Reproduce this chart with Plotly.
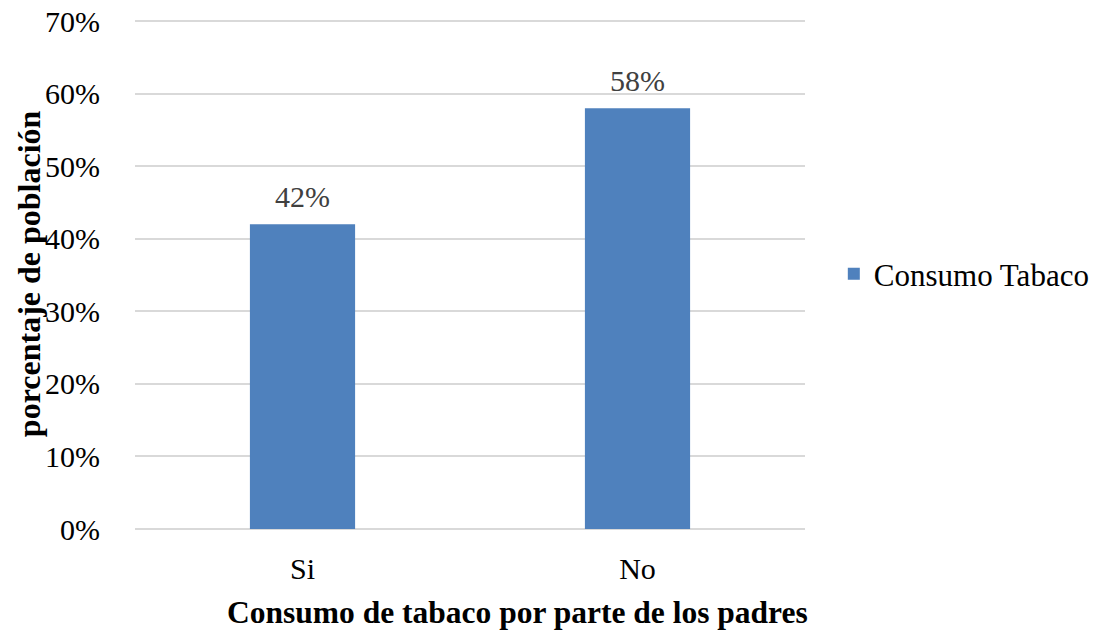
import plotly.graph_objects as go

categories = ["Si", "No"]
values = [42, 58]
labels = ["42%", "58%"]
tick_values = [0, 10, 20, 30, 40, 50, 60, 70]
tick_labels = ["0%", "10%", "20%", "30%", "40%", "50%", "60%", "70%"]

font_family = "Liberation Serif, Times New Roman, serif"

fig = go.Figure()
fig.add_trace(
    go.Bar(
        x=categories,
        y=values,
        marker={"color": "#4F81BD", "line": {"width": 0}},
        name="Consumo Tabaco",
        showlegend=True,
    )
)
for cat, val, lab in zip(categories, values, labels):
    fig.add_annotation(
        x=cat,
        y=val,
        text=lab,
        showarrow=False,
        yanchor="bottom",
        yshift=9,
        font={"size": 30, "color": "#404040", "family": font_family},
    )

# axis titles as annotations so they land where the original has them
fig.add_annotation(
    text="<b>Consumo de tabaco por parte de los padres</b>",
    xref="paper",
    yref="paper",
    x=0.5705,
    y=-0.163,
    xanchor="center",
    yanchor="middle",
    showarrow=False,
    font={"size": 31.5, "color": "#000000", "family": font_family},
)
fig.add_annotation(
    text="<b>porcentaje de población</b>",
    xref="paper",
    yref="paper",
    x=-0.158,
    y=0.5,
    xanchor="center",
    yanchor="middle",
    textangle=-90,
    showarrow=False,
    font={"size": 32, "color": "#000000", "family": font_family},
)

# page body adds an 8px offset, so the figure is sized to fit inside it
fig.update_layout(
    width=1093,
    height=626,
    paper_bgcolor="#ffffff",
    plot_bgcolor="#ffffff",
    font={"family": font_family, "size": 30, "color": "#000000"},
    margin={"l": 127, "r": 296, "t": 10.8, "b": 105, "autoexpand": False},
    bargap=0.686,
    xaxis={
        "automargin": False,
        "showline": False,
        "ticks": "outside",
        "ticklen": 13,
        "tickcolor": "rgba(0,0,0,0)",
        "tickfont": {"size": 30},
    },
    yaxis={
        "automargin": False,
        "range": [0, 70.3],
        "tickvals": tick_values,
        "ticktext": tick_labels,
        "ticklabeloverflow": "allow",
        "gridcolor": "#d9d9d9",
        "gridwidth": 1.5,
        "zeroline": True,
        "zerolinecolor": "#d9d9d9",
        "zerolinewidth": 1.5,
        "showline": False,
        "ticks": "outside",
        "ticklen": 28,
        "tickcolor": "rgba(0,0,0,0)",
        "tickfont": {"size": 30},
    },
    legend={
        "x": 1.043,
        "xanchor": "left",
        "y": 0.5,
        "yanchor": "middle",
        "font": {"size": 31},
        "itemwidth": 30,
        "bgcolor": "rgba(0,0,0,0)",
    },
)

fig.write_html("out.html")
